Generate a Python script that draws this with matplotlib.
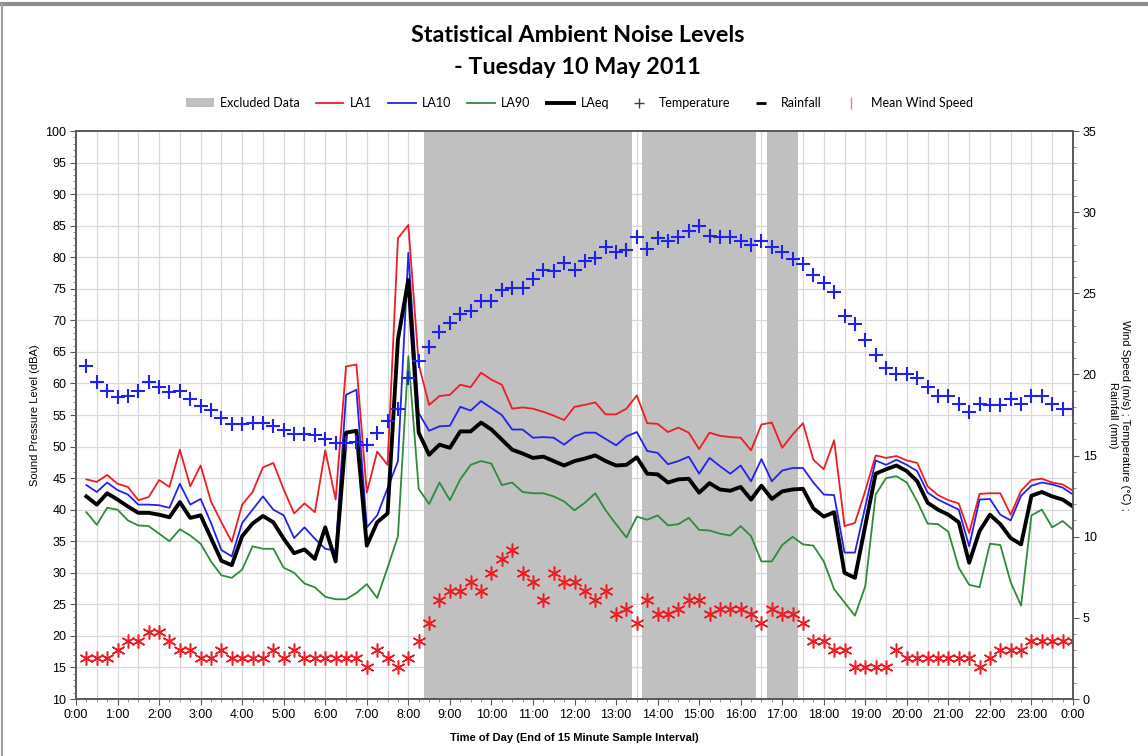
import numpy as np
import matplotlib
matplotlib.use("Agg")
import matplotlib.pyplot as plt
from matplotlib.lines import Line2D
from matplotlib.patches import Patch

# 15-minute samples, labelled by end of interval (0:15 ... 24:00)
la1 = [44.8, 44.4, 45.5, 44.1, 43.6, 41.5, 42.0, 44.7, 43.6, 49.5, 43.7, 47.0,
       41.3, 38.0, 34.9, 40.8, 42.8, 46.7, 47.4, 43.2, 39.4, 41.0, 39.6, 49.4,
       41.6, 62.7, 63.0, 42.7, 49.2, 47.1, 83.0, 85.1, 63.0, 56.6, 58.0, 58.2,
       59.8, 59.4, 61.7, 60.6, 59.8, 56.0, 56.2, 56.0, 55.5, 54.9, 54.2, 56.3,
       56.6, 57.0, 55.1, 55.1, 56.0, 58.1, 53.7, 53.6, 52.3, 53.0, 52.2, 49.6,
       52.2, 51.7, 51.5, 51.4, 49.4, 53.5, 53.8, 49.8, 51.9, 53.7, 47.9, 46.4,
       51.0, 37.4, 37.9, 43.0, 48.6, 48.2, 48.5, 47.8, 47.4, 43.7, 42.3, 41.5,
       41.0, 36.3, 42.5, 42.6, 42.6, 39.2, 43.0, 44.7, 44.9, 44.3, 44.0, 43.0]
la10 = [43.9, 42.8, 44.3, 43.1, 42.4, 40.8, 40.8, 40.7, 40.3, 44.1, 40.8, 41.7,
        37.9, 33.6, 32.6, 37.9, 40.0, 42.1, 40.0, 39.1, 35.5, 37.2, 35.4, 33.8,
        33.5, 58.2, 59.0, 37.2, 39.1, 43.4, 47.7, 80.7, 55.3, 52.5, 53.2, 53.3,
        56.3, 55.7, 57.2, 56.1, 55.0, 52.7, 52.7, 51.4, 51.5, 51.4, 50.3, 51.6,
        52.2, 52.2, 51.2, 50.2, 51.6, 52.3, 49.3, 49.0, 47.2, 47.7, 48.4, 45.7,
        48.2, 46.9, 45.7, 47.0, 44.5, 48.0, 44.5, 46.2, 46.6, 46.6, 44.3, 42.4,
        42.3, 33.2, 33.2, 40.5, 47.8, 47.1, 47.9, 47.1, 46.1, 42.7, 41.6, 40.8,
        40.0, 34.2, 41.6, 41.7, 39.2, 38.3, 42.2, 43.8, 44.3, 44.0, 43.5, 42.4]
la90 = [39.6, 37.6, 40.3, 40.0, 38.3, 37.5, 37.4, 36.2, 35.0, 36.9, 35.9, 34.6,
        31.8, 29.6, 29.2, 30.5, 34.2, 33.8, 33.8, 30.8, 30.0, 28.3, 27.7, 26.2,
        25.8, 25.8, 26.8, 28.2, 26.0, 30.8, 35.8, 64.3, 43.3, 40.9, 44.3, 41.5,
        44.8, 47.1, 47.7, 47.3, 43.9, 44.3, 42.8, 42.6, 42.6, 42.1, 41.3, 39.9,
        41.1, 42.6, 39.9, 37.7, 35.6, 38.9, 38.4, 39.1, 37.5, 37.7, 38.7, 36.8,
        36.7, 36.2, 35.9, 37.4, 35.8, 31.8, 31.8, 34.4, 35.7, 34.5, 34.3, 31.8,
        27.4, 25.3, 23.2, 27.9, 42.4, 45.0, 45.3, 44.3, 41.3, 37.8, 37.7, 36.5,
        30.8, 28.1, 27.7, 34.6, 34.4, 28.5, 24.8, 39.1, 40.0, 37.2, 38.2, 36.8]
laeq = [42.1, 40.8, 42.6, 41.6, 40.5, 39.5, 39.5, 39.2, 38.8, 41.2, 38.7, 39.1,
        35.5, 31.9, 31.2, 35.8, 37.8, 39.0, 38.0, 35.4, 33.1, 33.7, 32.2, 37.2,
        31.8, 52.2, 52.5, 34.3, 38.0, 39.4, 67.0, 76.4, 52.2, 48.7, 50.3, 49.8,
        52.4, 52.4, 53.8, 52.7, 51.1, 49.5, 48.9, 48.2, 48.4, 47.7, 47.0, 47.7,
        48.1, 48.6, 47.7, 47.0, 47.1, 48.3, 45.7, 45.6, 44.3, 44.8, 44.9, 42.7,
        44.2, 43.2, 43.0, 43.6, 41.6, 43.8, 41.7, 42.9, 43.2, 43.3, 40.2, 38.9,
        39.6, 30.0, 29.2, 37.5, 45.7, 46.4, 47.0, 46.1, 44.5, 41.1, 40.0, 39.2,
        38.0, 31.6, 36.6, 39.2, 37.7, 35.5, 34.5, 42.2, 42.8, 42.1, 41.6, 40.5]
temperature = [20.5, 19.55, 19.0, 18.6, 18.7, 19.0, 19.55, 19.25, 18.9, 19.0, 18.5, 18.05,
               17.8, 17.3, 16.95, 16.95, 17.0, 17.0, 16.85, 16.6, 16.3, 16.3, 16.25, 16.05,
               15.8, 15.8, 15.85, 15.65, 16.4, 17.15, 17.85, 19.75, 20.8, 21.7, 22.6, 23.15,
               23.75, 23.9, 24.5, 24.5, 25.2, 25.3, 25.3, 25.9, 26.45, 26.4, 26.85, 26.45,
               27.0, 27.2, 27.85, 27.55, 27.65, 28.45, 27.75, 28.4, 28.25, 28.45, 28.85, 29.15,
               28.5, 28.45, 28.45, 28.25, 28.0, 28.25, 27.85, 27.55, 27.1, 26.8, 26.1, 25.65,
               25.1, 23.6, 23.1, 22.1, 21.2, 20.4, 20.0, 20.05, 19.75, 19.25, 18.7, 18.65,
               18.2, 17.7, 18.2, 18.1, 18.1, 18.5, 18.2, 18.65, 18.7, 18.2, 17.9, 17.9]
wind_speed = [2.5, 2.5, 2.5, 3.05, 3.6, 3.6, 4.15, 4.15, 3.6, 3.05, 3.05, 2.5,
              2.5, 3.05, 2.5, 2.5, 2.5, 2.5, 3.05, 2.5, 3.05, 2.5, 2.5, 2.5,
              2.5, 2.5, 2.5, 1.95, 3.05, 2.5, 1.95, 2.5, 3.6, 4.7, 6.1, 6.65,
              6.65, 7.2, 6.65, 7.75, 8.6, 9.2, 7.75, 7.2, 6.1, 7.75, 7.2, 7.2,
              6.65, 6.1, 6.65, 5.25, 5.55, 4.7, 6.1, 5.25, 5.25, 5.55, 6.1, 6.1,
              5.25, 5.55, 5.55, 5.55, 5.25, 4.7, 5.55, 5.25, 5.25, 4.7, 3.6, 3.6,
              3.05, 3.05, 1.95, 1.95, 1.95, 1.95, 3.05, 2.5, 2.5, 2.5, 2.5, 2.5,
              2.5, 2.5, 1.95, 2.5, 3.05, 3.05, 3.05, 3.6, 3.6, 3.6, 3.6, 3.6]
rainfall = []  # no rain recorded on the day

# excluded sample intervals (first, last) as "h:mm"
excluded_ranges = [("8:30", "13:15"), ("13:45", "16:15"), ("16:45", "17:15")]
hour_labels = ["%d:00" % h for h in range(24)] + ["0:00"]


def to_hours(s):
    h, m = s.split(":")
    return int(h) + int(m) / 60.0


t = np.arange(1, len(laeq) + 1) * 0.25
excluded_t = []
for a, b in excluded_ranges:
    excluded_t.extend(np.arange(to_hours(a), to_hours(b) + 0.01, 0.25))

plt.rcParams["font.family"] = ["Liberation Sans", "DejaVu Sans"]

fig = plt.figure(figsize=(11.48, 7.56), dpi=100)
ax = fig.add_axes([76 / 1148, 57 / 756, 997 / 1148, 568 / 756])
ax2 = ax.twinx()

# chart area frame (top and left edges)
fig.add_artist(Line2D([0.002, 1.0], [0.995, 0.995], transform=fig.transFigure,
                      color="#8c8c8c", linewidth=3))
fig.add_artist(Line2D([0.002, 0.002], [0.0, 0.995], transform=fig.transFigure,
                      color="#a0a0a0", linewidth=1.5))

ax.set_xlim(0, 24)
ax.set_ylim(10, 100)
ax2.set_ylim(0, 35)

# grid
for x in np.arange(0.5, 24, 0.5):
    ax.axvline(x, color="#d9d9d9", linewidth=0.9, zorder=0)
for y in range(15, 100, 5):
    ax.axhline(y, color="#d9d9d9", linewidth=0.9, zorder=0)

ax.bar(excluded_t, 90, bottom=10, width=0.25, color="#c0c0c0", linewidth=0, zorder=1)

ax.plot(t, la1, color="#ee1c25", linewidth=1.3, zorder=3)
ax.plot(t, la10, color="#2222ee", linewidth=1.3, zorder=3)
ax.plot(t, la90, color="#2e8b3c", linewidth=1.3, zorder=3)
ax.plot(t, laeq, color="black", linewidth=2.8, zorder=4)

ax2.plot(t, temperature, linestyle="none", marker="+", markersize=10.5,
         markeredgewidth=1.5, color="#2020f0")
ax2.plot(t, wind_speed, linestyle="none", marker=(6, 2, 0), markersize=10,
         markeredgewidth=1.1, color="#ee1c25")
ax2.plot(t[:len(rainfall)], rainfall, linestyle="none", marker="_", color="black")

# axes styling
ax.set_xticks(range(25))
ax.set_xticklabels(hour_labels)
ax.set_xticks(np.arange(0, 24.01, 0.25), minor=True)
ax.set_yticks(range(10, 101, 5))
ax.set_yticks(range(10, 101, 1), minor=True)
ax2.set_yticks(range(0, 36, 5))
ax2.set_yticks(np.arange(0, 35.01, 1), minor=True)
for a in (ax, ax2):
    a.tick_params(which="major", length=4, width=0.8, color="#595959",
                  labelsize=9, pad=3)
    a.tick_params(which="minor", length=2.5, width=0.6, color="#808080")
    for s in a.spines.values():
        s.set_color("#595959")
        s.set_linewidth(1.2)

ax.set_ylabel("Sound Pressure Level (dBA)", fontsize=8, labelpad=4)
ax2.set_ylabel("Wind Speed (m/s) ; Temperature (\u00b0C) ;\nRainfall (mm)",
               fontsize=8, rotation=270, labelpad=24)
ax.set_xlabel("Time of Day (End of 15 Minute Sample Interval)", fontsize=8,
              fontweight="bold", labelpad=9)

fig.text(0.503, 1 - 35 / 756, "Statistical Ambient Noise Levels", ha="center",
         va="center", fontsize=16.8, fontweight="bold", family="Lato")
fig.text(0.503, 1 - 67 / 756, "- Tuesday 10 May 2011", ha="center",
         va="center", fontsize=16.8, fontweight="bold", family="Lato")

handles = [
    Patch(facecolor="#c0c0c0", edgecolor="none"),
    Line2D([], [], color="#ee1c25", linewidth=1.3),
    Line2D([], [], color="#2222ee", linewidth=1.3),
    Line2D([], [], color="#2e8b3c", linewidth=1.3),
    Line2D([], [], color="black", linewidth=2.8),
    Line2D([], [], linestyle="none", marker="+", color="#404040", markersize=7),
    Line2D([], [], linestyle="none", marker="_", color="black", markersize=7,
           markeredgewidth=2),
    Line2D([], [], linestyle="none", marker="|", color="#f08080", markersize=8),
]
labels = ["Excluded Data", "LA1", "LA10", "LA90", "LAeq", "Temperature",
          "Rainfall", "Mean Wind Speed"]
fig.legend(handles, labels, loc="center", bbox_to_anchor=(0.505, 1 - 103 / 756),
           ncol=8, frameon=False, handlelength=2.2, columnspacing=1.3,
           handletextpad=0.5, prop={"family": "Lato", "size": 9})

fig.savefig("out.png", dpi=100)
